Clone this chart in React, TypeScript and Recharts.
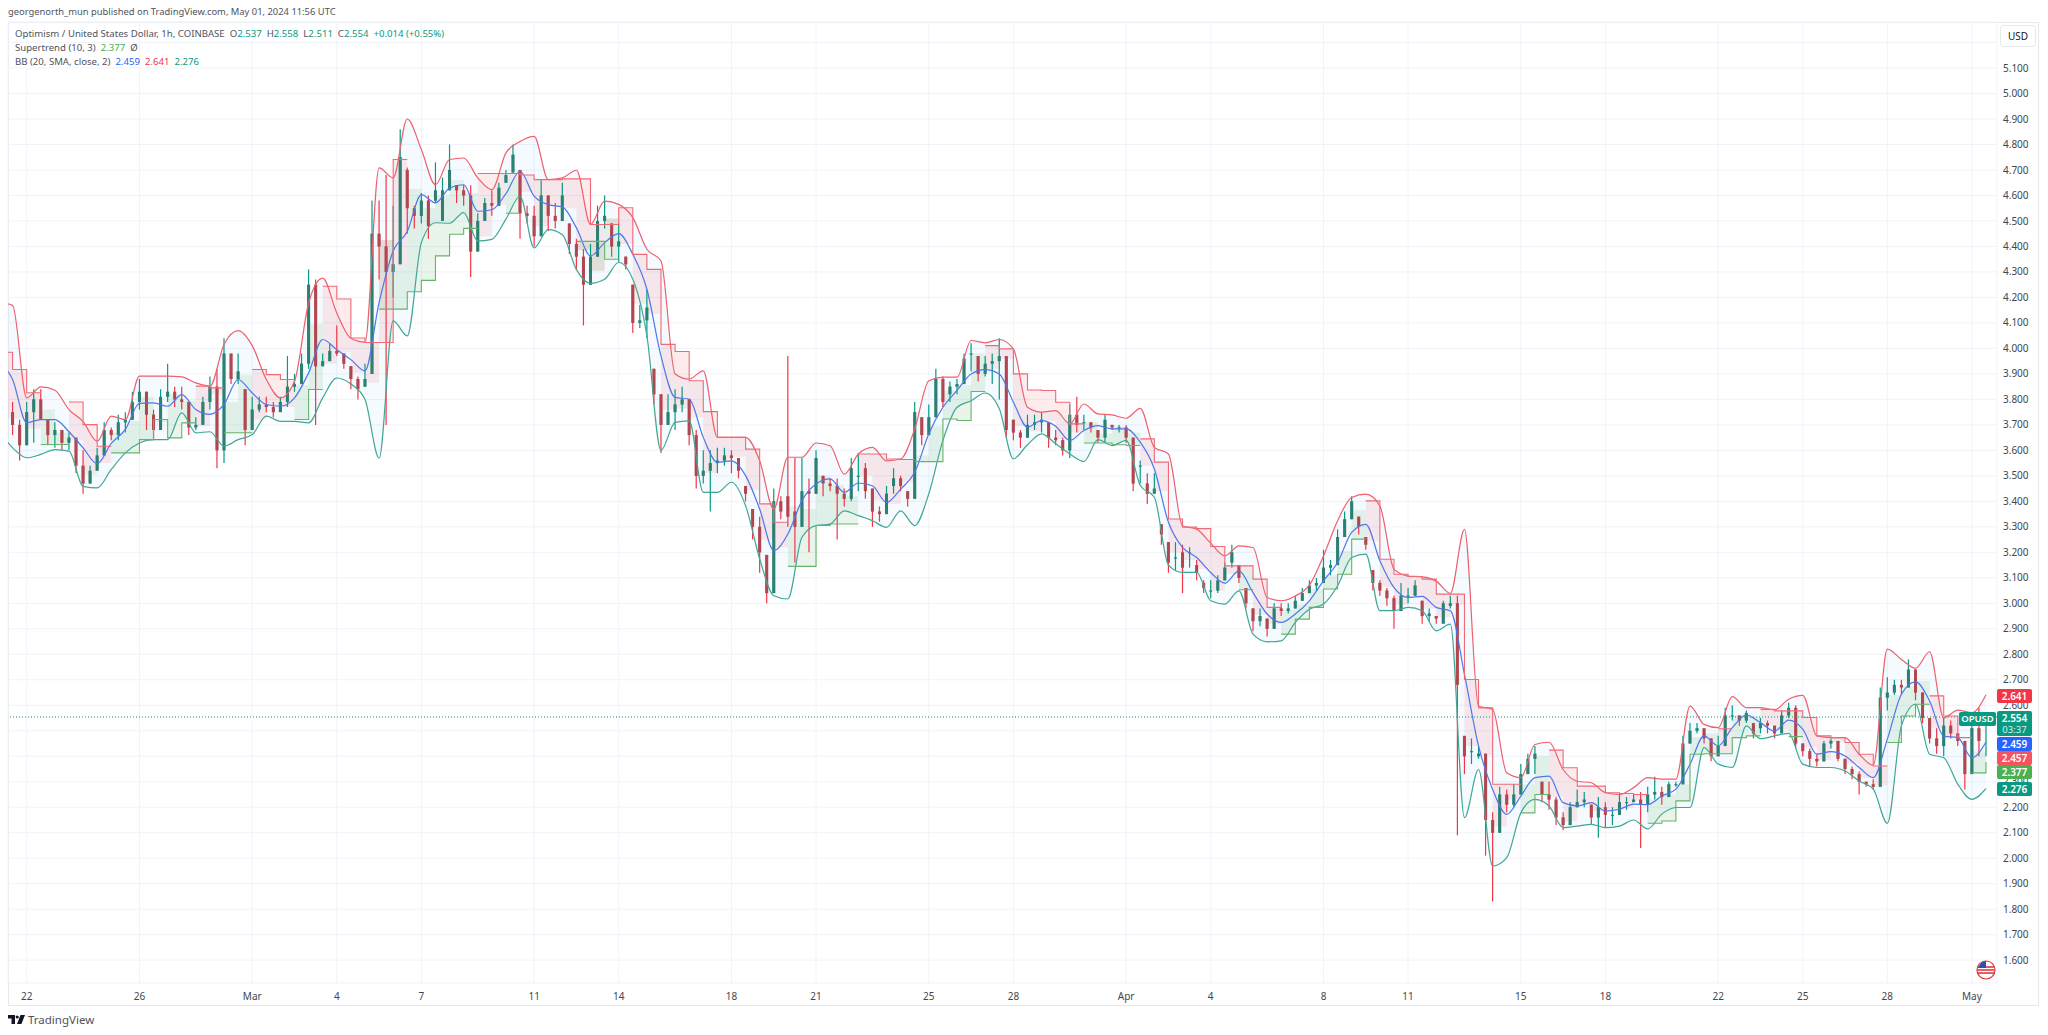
import { Area, Bar, CartesianGrid, ComposedChart, Line, ReferenceLine, XAxis, YAxis } from "recharts";

/* chart candles are 6h samples of the 1h OPUSD chart, rows are one calendar day (Feb 22 = day 0) */
const candleStartDay = -0.5;
const candleStep = 0.25;

const opens = [
  3.75, 3.70,
  3.62, 3.75, 3.80, 3.72, 3.66, 3.68, 3.63, 3.65, 3.54, 3.47, 3.52, 3.58, 3.68, 3.66, 3.71, 3.72,
  3.79, 3.83, 3.74, 3.68, 3.81, 3.83, 3.80, 3.79, 3.69, 3.70, 3.79, 3.85, 3.60, 3.98, 3.88, 3.84,
  3.68, 3.76, 3.78, 3.77, 3.75, 3.79, 3.85, 3.86, 3.94, 4.25, 3.93, 3.95, 3.99, 3.98, 3.93, 3.88,
  3.85, 3.90, 4.45, 4.40, 4.30, 4.33, 4.70, 4.55, 4.52, 4.58, 4.58, 4.50, 4.62, 4.64, 4.62, 4.60,
  4.38, 4.50, 4.57, 4.56, 4.65, 4.69, 4.70, 4.53, 4.52, 4.44, 4.60, 4.52, 4.50, 4.49, 4.41, 4.36,
  4.25, 4.36, 4.50, 4.49, 4.40, 4.36, 4.25, 4.10, 4.11, 3.92, 3.82, 3.70, 3.75, 3.78, 3.80, 3.66,
  3.50, 3.52, 3.55, 3.56, 3.58, 3.57, 3.46, 3.37, 3.30, 3.19, 3.04, 3.40, 3.42, 3.36, 3.30, 3.44,
  3.43, 3.50, 3.47, 3.46, 3.43, 3.41, 3.50, 3.53, 3.45, 3.36, 3.35, 3.46, 3.49, 3.44, 3.41, 3.73,
  3.66, 3.73, 3.88, 3.82, 3.85, 3.86, 3.98, 3.97, 3.90, 3.94, 3.95, 3.97, 3.72, 3.67, 3.65, 3.70,
  3.71, 3.71, 3.65, 3.64, 3.60, 3.74, 3.71, 3.71, 3.68, 3.65, 3.70, 3.69, 3.69, 3.65, 3.54, 3.47,
  3.43, 3.31, 3.24, 3.18, 3.20, 3.20, 3.15, 3.08, 3.05, 3.05, 3.09, 3.16, 3.15, 3.06, 2.98, 2.93,
  2.94, 2.90, 2.98, 2.97, 2.98, 3.01, 3.04, 3.07, 3.08, 3.14, 3.15, 3.26, 3.33, 3.34, 3.26, 3.13,
  3.08, 3.05, 3.02, 2.97, 3.03, 3.03, 3.01, 2.95, 2.95, 2.92, 2.99, 3.00, 2.48, 2.42, 2.40, 2.41,
  2.15, 2.10, 2.25, 2.21, 2.25, 2.33, 2.39, 2.30, 2.25, 2.23, 2.16, 2.13, 2.20, 2.22, 2.21, 2.16,
  2.20, 2.17, 2.17, 2.22, 2.22, 2.23, 2.21, 2.25, 2.26, 2.24, 2.29, 2.29, 2.45, 2.50, 2.51, 2.47,
  2.40, 2.44, 2.56, 2.56, 2.54, 2.53, 2.51, 2.53, 2.52, 2.49, 2.56, 2.59, 2.45, 2.42, 2.39, 2.38,
  2.45, 2.46, 2.39, 2.35, 2.33, 2.30, 2.29, 2.28, 2.63, 2.65, 2.68, 2.67, 2.74, 2.65, 2.55, 2.47,
  2.44, 2.52, 2.49, 2.46, 2.33, 2.51, 2.537,
];

const highs = [
  3.79, 3.72,
  3.79, 3.84, 3.84, 3.72, 3.71, 3.68, 3.67, 3.62, 3.60, 3.54, 3.61, 3.71, 3.69, 3.74, 3.75, 3.83,
  3.88, 3.83, 3.76, 3.84, 3.94, 3.85, 3.85, 3.75, 3.73, 3.81, 3.89, 3.92, 4.04, 3.93, 3.98, 3.84,
  3.81, 3.81, 3.81, 3.79, 3.81, 3.97, 3.90, 3.98, 4.31, 4.27, 3.98, 4.02, 4.09, 3.98, 3.93, 3.89,
  3.94, 4.58, 4.58, 4.68, 4.56, 4.86, 4.71, 4.56, 4.61, 4.60, 4.73, 4.67, 4.80, 4.64, 4.64, 4.64,
  4.53, 4.59, 4.62, 4.65, 4.70, 4.80, 4.70, 4.56, 4.56, 4.66, 4.60, 4.57, 4.65, 4.49, 4.43, 4.39,
  4.41, 4.56, 4.60, 4.49, 4.49, 4.36, 4.25, 4.17, 4.23, 3.92, 3.82, 3.82, 3.84, 3.85, 3.80, 3.68,
  3.60, 3.60, 3.61, 3.61, 3.60, 3.57, 3.46, 3.37, 3.34, 3.19, 3.45, 3.42, 3.97, 3.57, 3.57, 3.49,
  3.60, 3.50, 3.49, 3.49, 3.45, 3.57, 3.59, 3.55, 3.45, 3.38, 3.46, 3.53, 3.50, 3.44, 3.79, 3.73,
  3.78, 3.92, 3.89, 3.87, 3.88, 3.98, 4.02, 3.97, 3.97, 3.98, 4.04, 3.79, 3.72, 3.68, 3.74, 3.74,
  3.75, 3.71, 3.68, 3.65, 3.78, 3.81, 3.74, 3.71, 3.68, 3.74, 3.70, 3.70, 3.70, 3.65, 3.56, 3.51,
  3.51, 3.31, 3.24, 3.24, 3.23, 3.22, 3.17, 3.09, 3.09, 3.11, 3.16, 3.23, 3.15, 3.06, 2.98, 2.98,
  2.94, 3.00, 3.00, 3.00, 3.03, 3.06, 3.09, 3.10, 3.21, 3.17, 3.29, 3.36, 3.42, 3.34, 3.26, 3.13,
  3.09, 3.06, 3.03, 3.08, 3.06, 3.09, 3.01, 2.98, 2.95, 3.01, 3.03, 3.03, 2.48, 2.47, 2.44, 2.41,
  2.18, 2.28, 2.27, 2.29, 2.37, 2.41, 2.44, 2.30, 2.30, 2.24, 2.18, 2.22, 2.27, 2.26, 2.21, 2.24,
  2.22, 2.20, 2.25, 2.24, 2.25, 2.26, 2.28, 2.32, 2.28, 2.30, 2.30, 2.48, 2.53, 2.53, 2.49, 2.47,
  2.48, 2.59, 2.60, 2.56, 2.58, 2.53, 2.55, 2.54, 2.51, 2.58, 2.61, 2.60, 2.45, 2.43, 2.41, 2.46,
  2.47, 2.46, 2.39, 2.36, 2.34, 2.30, 2.31, 2.67, 2.71, 2.70, 2.70, 2.78, 2.74, 2.65, 2.55, 2.51,
  2.55, 2.54, 2.49, 2.46, 2.54, 2.59, 2.558,
];

const lows = [
  3.66, 3.56,
  3.66, 3.63, 3.72, 3.62, 3.61, 3.60, 3.60, 3.51, 3.43, 3.47, 3.56, 3.58, 3.64, 3.64, 3.67, 3.72,
  3.76, 3.68, 3.64, 3.75, 3.79, 3.77, 3.76, 3.66, 3.68, 3.73, 3.76, 3.53, 3.55, 3.86, 3.86, 3.62,
  3.72, 3.75, 3.75, 3.73, 3.76, 3.77, 3.83, 3.91, 3.92, 3.70, 3.93, 3.97, 3.97, 3.92, 3.84, 3.80,
  3.85, 3.90, 4.27, 3.70, 4.20, 4.34, 4.45, 4.47, 4.49, 4.43, 4.57, 4.57, 4.64, 4.57, 4.56, 4.28,
  4.38, 4.53, 4.52, 4.56, 4.65, 4.69, 4.43, 4.49, 4.40, 4.44, 4.46, 4.47, 4.50, 4.37, 4.31, 4.09,
  4.25, 4.36, 4.47, 4.36, 4.34, 4.31, 4.06, 4.08, 4.04, 3.78, 3.59, 3.70, 3.68, 3.75, 3.62, 3.45,
  3.47, 3.36, 3.51, 3.54, 3.51, 3.49, 3.40, 3.25, 3.12, 3.00, 3.21, 3.33, 3.30, 3.16, 3.30, 3.20,
  3.43, 3.42, 3.44, 3.25, 3.38, 3.40, 3.44, 3.41, 3.30, 3.32, 3.35, 3.43, 3.44, 3.38, 3.41, 3.62,
  3.66, 3.73, 3.77, 3.79, 3.82, 3.86, 3.91, 3.87, 3.89, 3.86, 3.80, 3.65, 3.64, 3.61, 3.65, 3.68,
  3.67, 3.61, 3.62, 3.58, 3.57, 3.67, 3.68, 3.67, 3.63, 3.63, 3.68, 3.67, 3.63, 3.44, 3.47, 3.39,
  3.43, 3.23, 3.12, 3.13, 3.04, 3.14, 3.09, 3.04, 3.02, 3.04, 3.09, 3.14, 3.08, 2.98, 2.89, 2.91,
  2.87, 2.90, 2.95, 2.96, 2.98, 3.01, 3.04, 3.05, 3.08, 3.11, 3.15, 3.26, 3.33, 3.27, 3.21, 3.05,
  3.03, 2.99, 2.90, 2.97, 3.00, 3.03, 2.92, 2.93, 2.92, 2.94, 2.98, 2.09, 2.33, 2.37, 2.39, 2.01,
  1.83, 2.10, 2.18, 2.20, 2.25, 2.33, 2.33, 2.22, 2.19, 2.13, 2.11, 2.13, 2.20, 2.20, 2.13, 2.08,
  2.12, 2.13, 2.17, 2.19, 2.22, 2.04, 2.18, 2.23, 2.21, 2.24, 2.28, 2.29, 2.45, 2.49, 2.45, 2.38,
  2.40, 2.44, 2.54, 2.52, 2.53, 2.47, 2.49, 2.49, 2.47, 2.49, 2.55, 2.43, 2.40, 2.36, 2.36, 2.38,
  2.43, 2.38, 2.33, 2.31, 2.25, 2.28, 2.27, 2.28, 2.58, 2.64, 2.64, 2.67, 2.62, 2.53, 2.45, 2.41,
  2.40, 2.47, 2.44, 2.27, 2.33, 2.40, 2.40,
];

const closes = [
  3.70, 3.62,
  3.75, 3.80, 3.72, 3.66, 3.68, 3.63, 3.65, 3.54, 3.47, 3.52, 3.58, 3.68, 3.66, 3.71, 3.72, 3.79,
  3.83, 3.74, 3.68, 3.81, 3.83, 3.80, 3.79, 3.69, 3.70, 3.79, 3.85, 3.60, 3.98, 3.88, 3.91, 3.68,
  3.76, 3.78, 3.77, 3.75, 3.79, 3.85, 3.86, 3.94, 4.25, 3.93, 3.95, 3.99, 3.98, 3.94, 3.88, 3.84,
  3.88, 4.45, 4.40, 4.30, 4.33, 4.75, 4.55, 4.52, 4.58, 4.48, 4.62, 4.62, 4.70, 4.62, 4.60, 4.38,
  4.50, 4.57, 4.56, 4.63, 4.68, 4.76, 4.53, 4.52, 4.44, 4.60, 4.52, 4.50, 4.60, 4.41, 4.36, 4.25,
  4.36, 4.50, 4.52, 4.40, 4.42, 4.33, 4.10, 4.11, 4.16, 3.82, 3.70, 3.75, 3.78, 3.80, 3.66, 3.50,
  3.52, 3.55, 3.56, 3.58, 3.57, 3.52, 3.43, 3.30, 3.20, 3.04, 3.40, 3.36, 3.34, 3.30, 3.44, 3.43,
  3.57, 3.47, 3.46, 3.43, 3.41, 3.53, 3.50, 3.44, 3.36, 3.35, 3.43, 3.49, 3.46, 3.41, 3.75, 3.66,
  3.73, 3.88, 3.79, 3.85, 3.86, 3.96, 3.98, 3.90, 3.94, 3.95, 3.97, 3.68, 3.67, 3.65, 3.70, 3.71,
  3.72, 3.65, 3.64, 3.60, 3.74, 3.70, 3.71, 3.69, 3.65, 3.72, 3.69, 3.69, 3.65, 3.47, 3.54, 3.43,
  3.45, 3.27, 3.16, 3.18, 3.14, 3.20, 3.12, 3.06, 3.05, 3.09, 3.14, 3.20, 3.10, 3.00, 2.93, 2.95,
  2.90, 2.98, 2.97, 2.98, 3.01, 3.04, 3.07, 3.08, 3.14, 3.15, 3.26, 3.33, 3.40, 3.30, 3.23, 3.08,
  3.05, 3.02, 2.97, 3.03, 3.03, 3.07, 2.95, 2.96, 2.94, 3.00, 3.00, 2.68, 2.40, 2.42, 2.41, 2.15,
  2.10, 2.25, 2.21, 2.25, 2.33, 2.39, 2.41, 2.25, 2.23, 2.16, 2.13, 2.20, 2.22, 2.23, 2.16, 2.20,
  2.17, 2.17, 2.22, 2.22, 2.23, 2.21, 2.25, 2.26, 2.24, 2.29, 2.29, 2.45, 2.50, 2.51, 2.47, 2.40,
  2.44, 2.56, 2.56, 2.54, 2.57, 2.49, 2.53, 2.52, 2.49, 2.56, 2.59, 2.45, 2.42, 2.39, 2.38, 2.45,
  2.46, 2.39, 2.35, 2.33, 2.30, 2.29, 2.28, 2.63, 2.65, 2.68, 2.67, 2.74, 2.65, 2.55, 2.47, 2.44,
  2.52, 2.49, 2.46, 2.33, 2.51, 2.46, 2.554,
];

/* bollinger and supertrend read every half day, first row sits off the left edge */
const bandStartDay = -1;
const bandStep = 0.5;

const bbUpper = [
  4.180, 4.169,
  3.806, 3.849, 3.836, 3.760, 3.713, 3.636, 3.734, 3.721, 3.891, 3.891, 3.891, 3.888, 3.865, 3.852, 4.015, 4.070,
  4.011, 3.878, 3.806, 3.871, 4.178, 4.276, 4.139, 4.040, 4.025, 4.708, 4.669, 4.900, 4.780, 4.642, 4.741, 4.747,
  4.669, 4.623, 4.767, 4.812, 4.832, 4.662, 4.669, 4.699, 4.486, 4.578, 4.565, 4.513, 4.389, 4.343, 3.900, 3.880,
  3.912, 3.651, 3.651, 3.651, 3.559, 3.370, 3.573, 3.573, 3.629, 3.618, 3.507, 3.586, 3.612, 3.559, 3.566, 3.684,
  3.873, 3.887, 3.887, 4.031, 4.022, 4.035, 3.998, 3.769, 3.750, 3.756, 3.704, 3.782, 3.743, 3.739, 3.726, 3.765,
  3.612, 3.586, 3.304, 3.291, 3.236, 3.186, 3.225, 3.219, 3.023, 3.010, 3.029, 3.071, 3.186, 3.324, 3.415, 3.428,
  3.382, 3.134, 3.107, 3.104, 3.087, 3.039, 3.290, 2.597, 2.584, 2.335, 2.316, 2.446, 2.455, 2.348, 2.302, 2.296,
  2.257, 2.250, 2.277, 2.316, 2.310, 2.310, 2.597, 2.525, 2.512, 2.634, 2.591, 2.591, 2.582, 2.624, 2.639, 2.480,
  2.473, 2.473, 2.408, 2.365, 2.820, 2.780, 2.745, 2.810, 2.551, 2.581, 2.571, 2.641,
];

const bbBasis = [
  3.950, 3.878,
  3.708, 3.721, 3.721, 3.673, 3.610, 3.548, 3.627, 3.682, 3.784, 3.786, 3.773, 3.819, 3.760, 3.741, 3.780, 3.878,
  3.825, 3.780, 3.773, 3.806, 3.904, 4.035, 3.995, 3.956, 3.912, 4.180, 4.382, 4.459, 4.603, 4.571, 4.629, 4.642,
  4.538, 4.544, 4.607, 4.695, 4.597, 4.564, 4.555, 4.473, 4.363, 4.415, 4.450, 4.369, 4.232, 3.970, 3.808, 3.801,
  3.651, 3.553, 3.559, 3.501, 3.370, 3.207, 3.272, 3.403, 3.468, 3.488, 3.435, 3.472, 3.461, 3.396, 3.448, 3.514,
  3.665, 3.769, 3.835, 3.900, 3.917, 3.900, 3.789, 3.691, 3.717, 3.695, 3.639, 3.678, 3.697, 3.684, 3.684, 3.632,
  3.527, 3.318, 3.219, 3.180, 3.121, 3.079, 3.127, 3.042, 2.958, 2.925, 2.958, 3.010, 3.088, 3.160, 3.278, 3.310,
  3.167, 3.062, 3.023, 3.027, 2.984, 2.971, 2.721, 2.440, 2.270, 2.172, 2.244, 2.316, 2.322, 2.218, 2.205, 2.218,
  2.185, 2.192, 2.212, 2.210, 2.244, 2.271, 2.369, 2.480, 2.441, 2.512, 2.561, 2.532, 2.499, 2.542, 2.506, 2.408,
  2.418, 2.401, 2.356, 2.316, 2.467, 2.643, 2.692, 2.617, 2.479, 2.473, 2.394, 2.456,
];

const bbLower = [
  3.680, 3.610,
  3.571, 3.584, 3.603, 3.597, 3.459, 3.453, 3.525, 3.590, 3.629, 3.642, 3.642, 3.747, 3.669, 3.673, 3.616, 3.642,
  3.662, 3.734, 3.714, 3.714, 3.708, 3.806, 3.884, 3.860, 3.800, 3.570, 4.108, 4.049, 4.415, 4.493, 4.491, 4.533,
  4.422, 4.428, 4.507, 4.597, 4.394, 4.466, 4.446, 4.309, 4.255, 4.271, 4.337, 4.271, 4.049, 3.600, 3.710, 3.716,
  3.435, 3.435, 3.475, 3.383, 3.174, 3.030, 3.017, 3.259, 3.305, 3.311, 3.363, 3.344, 3.324, 3.298, 3.363, 3.305,
  3.430, 3.639, 3.769, 3.795, 3.825, 3.763, 3.567, 3.622, 3.665, 3.626, 3.586, 3.556, 3.642, 3.619, 3.639, 3.462,
  3.416, 3.150, 3.121, 3.121, 3.010, 2.997, 3.049, 2.879, 2.849, 2.853, 2.925, 2.977, 2.997, 3.069, 3.180, 3.193,
  2.971, 2.971, 2.984, 2.971, 2.892, 2.918, 2.159, 2.348, 1.969, 2.002, 2.178, 2.231, 2.205, 2.120, 2.126, 2.133,
  2.120, 2.126, 2.150, 2.115, 2.173, 2.199, 2.199, 2.434, 2.369, 2.356, 2.519, 2.469, 2.480, 2.490, 2.369, 2.356,
  2.356, 2.342, 2.303, 2.271, 2.137, 2.519, 2.604, 2.408, 2.394, 2.290, 2.231, 2.273,
];

const stLevels = [
  3.985, 3.917,
  3.826, 3.623, 3.623, 3.790, 3.701, 3.616, 3.590, 3.590, 3.642, 3.721, 3.649, 3.708, 3.852, 3.845, 3.669, 3.669,
  3.917, 3.897, 3.878, 3.721, 3.839, 4.244, 4.194, 4.041, 4.023, 4.154, 4.741, 4.222, 4.267, 4.363, 4.448, 4.471,
  4.686, 4.686, 4.530, 4.680, 4.662, 4.662, 4.665, 4.420, 4.486, 4.350, 4.552, 4.369, 4.310, 4.016, 3.988, 3.873,
  3.752, 3.651, 3.651, 3.605, 3.390, 3.318, 3.145, 3.145, 3.305, 3.311, 3.311, 3.586, 3.586, 3.566, 3.564, 3.556,
  3.556, 3.723, 3.717, 3.831, 4.011, 3.998, 3.900, 3.837, 3.835, 3.789, 3.704, 3.629, 3.629, 3.622, 3.619, 3.645,
  3.554, 3.331, 3.299, 3.293, 3.223, 3.147, 3.053, 3.095, 2.984, 2.879, 2.938, 2.984, 3.056, 3.114, 3.252, 3.402,
  3.173, 3.114, 3.105, 3.095, 3.036, 3.036, 2.701, 2.590, 2.290, 2.290, 2.178, 2.250, 2.424, 2.355, 2.283, 2.283,
  2.257, 2.254, 2.250, 2.137, 2.146, 2.225, 2.408, 2.410, 2.508, 2.473, 2.480, 2.584, 2.578, 2.477, 2.552, 2.480,
  2.473, 2.454, 2.408, 2.362, 2.454, 2.558, 2.604, 2.637, 2.558, 2.473, 2.335, 2.377,
];

/* U = uptrend (green line), D = downtrend (red line) */
const stTrend = [
  "DD",
  "DUUDDDUUUUUUDDUU",
  "DDDUUDDDDUDUUUUU",
  "DDUDDDDUDUDDDDDD",
  "DDDDDDUUUUUDDDDU",
  "UUUUDDDDDDDUUUUD",
  "DDDDDDUDDUUUUUUD",
  "DDDDDDDDDDUUDDDD",
  "DDDUUUUUDUUDDUDD",
  "DDDDUUUDDDUU",
].join("");

const xTickDays = [0, 4, 8, 11, 14, 18, 21, 25, 28, 32, 35, 39, 42, 46, 49, 53, 56, 60, 63, 66, 69];
const xTickLabels = ["22", "26", "Mar", "4", "7", "11", "14", "18", "21", "25", "28", "Apr", "4", "8", "11", "15", "18", "22", "25", "28", "May"];
const yTicks = [
  1.6, 1.7, 1.8, 1.9, 2.0, 2.1, 2.2, 2.3, 2.4, 2.5, 2.6, 2.7, 2.8, 2.9, 3.0, 3.1, 3.2, 3.3, 3.4,
  3.5, 3.6, 3.7, 3.8, 3.9, 4.0, 4.1, 4.2, 4.3, 4.4, 4.5, 4.6, 4.7, 4.8, 4.9, 5.0, 5.1, 5.2,
];
/* these sit under the price badges or the USD button, so they get no label */
const hiddenTicks = [2.4, 2.5, 5.2];
const lastPrice = 2.554;

const GREEN = "#089981";
const RED = "#f23645";
const FONT = "'Noto Sans', sans-serif";

const candleRows = opens.map((open, i) => ({
  day: candleStartDay + i * candleStep,
  open,
  high: highs[i],
  low: lows[i],
  close: closes[i],
}));

const bandRows = bbUpper.map((upper, i) => {
  const level = stLevels[i];
  const trend = stTrend[i];
  const prevTrend = stTrend[i - 1];
  const prevLevel = stLevels[i - 1];
  /* a new trend closes the previous step on this row */
  const up = trend === "U" ? level : prevTrend === "U" ? prevLevel : null;
  const down = trend === "D" ? level : prevTrend === "D" ? prevLevel : null;
  const candle = Math.max(0, (i - 1) * 2);
  const mid = (opens[candle] + closes[candle]) / 2;
  return {
    day: bandStartDay + i * bandStep,
    upper,
    basis: bbBasis[i],
    lower: bbLower[i],
    band: [bbLower[i], upper],
    up,
    down,
    upFill: up === null ? null : [up, mid],
    downFill: down === null ? null : [down, mid],
  };
});

const Candle = (props: any) => {
  const { x, y, width, height, payload } = props;
  const { open, close, high, low } = payload;
  const top = Math.min(y, y + height);
  const span = Math.abs(height);
  const pxPerUnit = span / (high - low || 1);
  const cx = x + width / 2;
  const bodyTop = top + (high - Math.max(open, close)) * pxPerUnit;
  const bodyH = Math.max(1, Math.abs(open - close) * pxPerUnit);
  const color = close >= open ? GREEN : RED;
  return (
    <g>
      <line x1={cx} x2={cx} y1={top} y2={top + span} stroke={color} strokeWidth={1.2} />
      <rect x={x} y={bodyTop} width={width} height={bodyH} fill={color} />
      <rect x={x} y={bodyTop} width={width} height={bodyH} fill="#5d5d5d" fillOpacity={0.45} />
    </g>
  );
};

const box = (left: number, top: number, style: any = {}) => ({
  position: "absolute" as const,
  left,
  top,
  fontFamily: FONT,
  whiteSpace: "pre" as const,
  ...style,
});

const Badge = ({ top, text, color }: any) => (
  <div
    style={box(1997, top, {
      width: 35,
      height: 14,
      lineHeight: "14px",
      background: color,
      color: "#fff",
      fontSize: 10,
      fontWeight: 600,
      textAlign: "center",
      borderRadius: 2,
    })}
  >
    {text}
  </div>
);

const App = () => {
  return (
    <div style={{ position: "absolute", left: 0, top: 0, width: 2048, height: 1035, background: "#fff", overflow: "hidden" }}>
      <div style={box(8, 22, { width: 2031, height: 984, border: "1px solid #e6e8ee", boxSizing: "border-box" })} />
      <ComposedChart
        width={2048}
        height={1035}
        data={candleRows}
        margin={{ top: 22, left: 8, right: 9, bottom: 29 }}
        style={{ position: "absolute", left: 0, top: 0 }}
      >
        <CartesianGrid stroke="#f0f3fa" strokeWidth={1} />
        <XAxis
          dataKey="day"
          type="number"
          domain={[-0.663, 69.89]}
          allowDataOverflow
          ticks={xTickDays}
          interval={0}
          height={23}
          axisLine={false}
          tickLine={false}
          tickMargin={4}
          tick={{ fontSize: 10, fill: "#42464f", fontFamily: FONT }}
          tickFormatter={(d: number) => xTickLabels[xTickDays.indexOf(d)]}
        />
        <YAxis
          orientation="right"
          type="number"
          domain={[1.5105, 5.2805]}
          allowDataOverflow
          ticks={yTicks}
          interval={0}
          width={42}
          axisLine={false}
          tickLine={false}
          tickMargin={0}
          tick={{ fontSize: 10, fill: "#42464f", fontFamily: FONT }}
          tickFormatter={(v: number) => (hiddenTicks.includes(v) ? "" : v.toFixed(3))}
        />
        <Area data={bandRows} dataKey="band" type="monotone" stroke="none" fill="#2196f3" fillOpacity={0.05} isAnimationActive={false} activeDot={false} />
        <Area data={bandRows} dataKey="upFill" type="stepAfter" stroke="none" fill="#4caf50" fillOpacity={0.12} isAnimationActive={false} activeDot={false} />
        <Area data={bandRows} dataKey="downFill" type="stepAfter" stroke="none" fill={RED} fillOpacity={0.1} isAnimationActive={false} activeDot={false} />
        <ReferenceLine y={lastPrice} stroke={GREEN} strokeDasharray="1 2" />
        <Bar dataKey={(r: any) => [r.low, r.high]} barSize={3} shape={<Candle />} isAnimationActive={false} />
        <Line data={bandRows} dataKey="upper" type="monotone" stroke="#ef5f6d" strokeWidth={1.2} dot={false} activeDot={false} isAnimationActive={false} />
        <Line data={bandRows} dataKey="basis" type="monotone" stroke="#4f77ea" strokeWidth={1.2} dot={false} activeDot={false} isAnimationActive={false} />
        <Line data={bandRows} dataKey="lower" type="monotone" stroke="#3fa795" strokeWidth={1.2} dot={false} activeDot={false} isAnimationActive={false} />
        <Line data={bandRows} dataKey="up" type="stepAfter" stroke="#66b36a" strokeWidth={1.1} dot={false} activeDot={false} isAnimationActive={false} />
        <Line data={bandRows} dataKey="down" type="stepAfter" stroke="#ef6a76" strokeWidth={1.1} dot={false} activeDot={false} isAnimationActive={false} />
      </ComposedChart>

      <div style={box(8, 5, { fontSize: 9.4, color: "#50535e" })}>georgenorth_mun published on TradingView.com, May 01, 2024 11:56 UTC</div>
      <div style={box(15, 27, { fontSize: 9.6, color: "#50535e" })}>
        {"Optimism / United States Dollar, 1h, COINBASE  O"}
        <span style={{ color: GREEN }}>2.537</span>
        {"  H"}
        <span style={{ color: GREEN }}>2.558</span>
        {"  L"}
        <span style={{ color: GREEN }}>2.511</span>
        {"  C"}
        <span style={{ color: GREEN }}>2.554</span>
        <span style={{ color: GREEN }}>{"  +0.014 (+0.55%)"}</span>
      </div>
      <div style={box(15, 41, { fontSize: 9.6, color: "#50535e" })}>
        {"Supertrend (10, 3)  "}
        <span style={{ color: "#4caf50" }}>2.377</span>
        {"  Ø"}
      </div>
      <div style={box(15, 55, { fontSize: 9.6, color: "#50535e" })}>
        {"BB (20, SMA, close, 2)  "}
        <span style={{ color: "#2962ff" }}>2.459</span>
        {"  "}
        <span style={{ color: RED }}>2.641</span>
        {"  "}
        <span style={{ color: GREEN }}>2.276</span>
      </div>

      <div
        style={box(2000, 25, {
          width: 36,
          height: 22,
          lineHeight: "20px",
          border: "1px solid #e6e8ee",
          borderRadius: 4,
          boxSizing: "border-box",
          fontSize: 10,
          textAlign: "center",
          color: "#131722",
          background: "#fff",
        })}
      >
        USD
      </div>

      <Badge top={689} text="2.641" color={RED} />
      <div
        style={box(1959, 712, {
          width: 37,
          height: 14,
          lineHeight: "14px",
          background: GREEN,
          color: "#fff",
          fontSize: 9.5,
          fontWeight: 600,
          textAlign: "center",
          borderRadius: 2,
        })}
      >
        OPUSD
      </div>
      <div
        style={box(1997, 711, {
          width: 35,
          height: 25,
          background: GREEN,
          color: "#fff",
          fontSize: 10,
          fontWeight: 600,
          lineHeight: "12px",
          textAlign: "center",
          borderRadius: 2,
          paddingTop: 1,
          boxSizing: "border-box",
        })}
      >
        2.554
        <div style={{ fontWeight: 400, fontSize: 9.5, opacity: 0.85 }}>03:37</div>
      </div>
      <Badge top={737} text="2.459" color="#2962ff" />
      <Badge top={751} text="2.457" color="#f7525f" />
      <Badge top={765} text="2.377" color="#4caf50" />
      <Badge top={782} text="2.276" color={GREEN} />

      <svg style={{ position: "absolute", left: 1976, top: 960 }} width="20" height="20" viewBox="0 0 20 20">
        <circle cx="10" cy="10" r="9" fill="#fff" stroke="#d33" strokeWidth="1.2" />
        <path d="M2 7h16M1.5 10h17M2 13h16" stroke="#d8303a" strokeWidth="1.4" />
        <path d="M3 6a9 9 0 0 1 7-5v7H2z" fill="#2d4fb8" />
      </svg>

      <svg style={{ position: "absolute", left: 8, top: 1015 }} width="17" height="10" viewBox="0 0 17 10">
        <path d="M0 0h7v9H3.5V3.5H0z" fill="#131722" />
        <circle cx="9.2" cy="2" r="1.6" fill="#131722" />
        <path d="M12.5 0H17l-3.6 9H9z" fill="#131722" />
      </svg>
      <div style={box(28, 1012, { fontSize: 11.5, color: "#50535e" })}>TradingView</div>
    </div>
  );
};

export default App;
